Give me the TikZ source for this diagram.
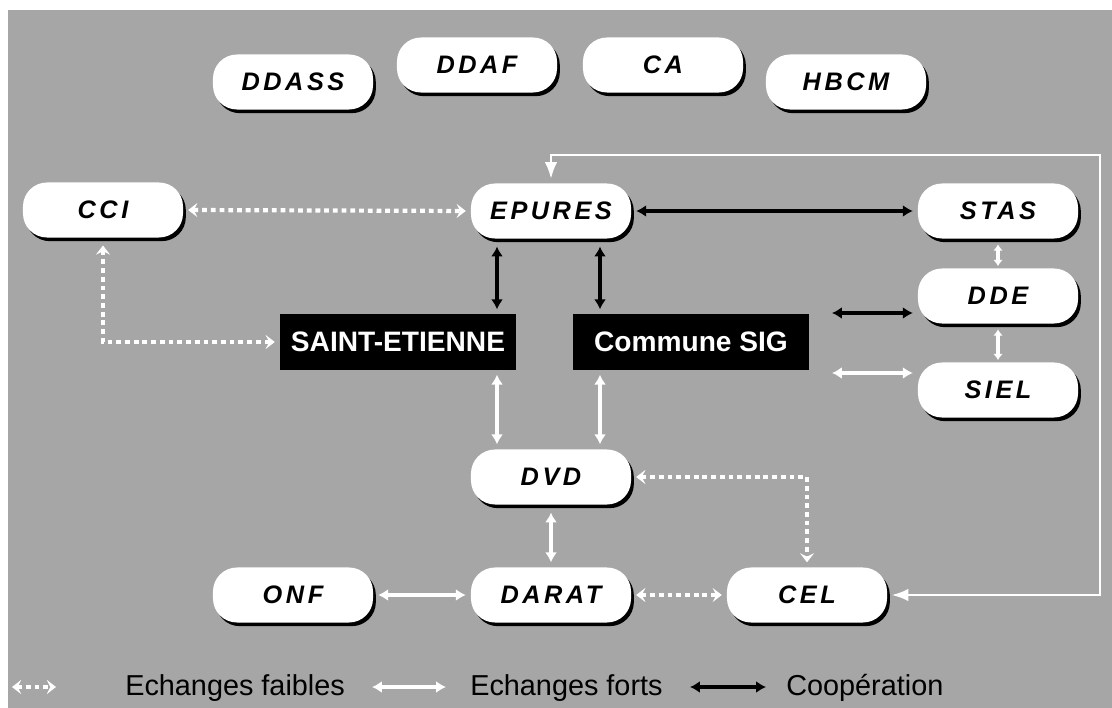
\documentclass[tikz,border=0pt]{standalone}
\usepackage{fontspec}
\setmainfont{Liberation Sans}
\newfontfamily\pillfont[LetterSpace=14]{Liberation Sans}
\usetikzlibrary{arrows.meta,shadows}
\definecolor{bggray}{RGB}{166,166,166}

\tikzset{
  pill/.style={rounded corners=0.6cm, fill=white, inner sep=0pt,
    minimum width=4cm, minimum height=1.375cm,
    drop shadow={fill=black, opacity=1, shadow xshift=2pt, shadow yshift=-2.6pt},
    font=\pillfont\fontsize{18}{21}\selectfont\bfseries\itshape},
  blackbox/.style={fill=black, text=white, inner sep=0pt,
    minimum width=5.9cm, minimum height=1.375cm,
    font=\fontsize{20}{23}\selectfont\bfseries},
  legend/.style={anchor=base west, inner sep=0pt, font=\fontsize{20.5}{24}\selectfont},
  weak/.style={white, line width=3pt, dash pattern=on 3.4pt off 2.8pt,
    {Stealth[length=6.5pt,width=10pt,inset=2.5pt]}-{Stealth[length=6.5pt,width=10pt,inset=2.5pt]},
    shorten <=3.5pt, shorten >=3.5pt},
  strong/.style={white, line width=2.8pt,
    {Latex[length=7pt,width=8.5pt]}-{Latex[length=7pt,width=8.5pt]},
    shorten <=3.5pt, shorten >=3.5pt},
  shortstrong/.style={white, line width=2.4pt,
    {Latex[length=4.5pt,width=7pt]}-{Latex[length=4.5pt,width=7pt]},
    shorten <=1.5pt, shorten >=1.5pt},
  coop/.style={black, line width=2.8pt,
    {Latex[length=7pt,width=8.5pt]}-{Latex[length=7pt,width=8.5pt]},
    shorten <=3.5pt, shorten >=3.5pt}
}

\begin{document}
\begin{tikzpicture}[x=0.025cm, y=-0.025cm, >=Latex]
  \useasboundingbox (0,0) rectangle (1112,708);
  \fill[white] (0,0) rectangle (1112,708);
  \fill[bggray] (8,10) rectangle (1112,708);

  % top row, unconnected
  \node[pill] (ddass) at (293,82) {DDASS};
  \node[pill] (ddaf) at (477,65) {DDAF};
  \node[pill] (ca) at (663,65) {CA};
  \node[pill] (hbcm) at (846,82) {HBCM};

  % main network
  \node[pill] (cci) at (103,210) {CCI};
  \node[pill] (epures) at (551,211) {EPURES};
  \node[pill] (stas) at (998,211) {STAS};
  \node[pill] (dde) at (998,296) {DDE};
  \node[pill] (siel) at (998,390) {SIEL};
  \node[blackbox] (stetienne) at (398,342) {SAINT-ETIENNE};
  \node[blackbox] (sig) at (691,342) {Commune SIG};
  \node[pill] (dvd) at (551,477) {DVD};
  \node[pill] (onf) at (293,595) {ONF};
  \node[pill] (darat) at (551,595) {DARAT};
  \node[pill] (cel) at (807,595) {CEL};

  % helper coordinates
  \coordinate (colA) at (497,0);
  \coordinate (colB) at (600,0);
  \coordinate (sigdde) at (832,313);
  \coordinate (sigsiel) at (832,373);
  \coordinate (loop) at (1100,155);

  \draw[weak] (cci.east) -- (epures.west);
  \draw[weak] ([yshift=-2pt]cci.south) |- (stetienne.west);
  \draw[coop] (epures.east) -- (stas.west);
  \draw[coop] ([yshift=-2pt]epures.south -| colA) -- (stetienne.north -| colA);
  \draw[coop] ([yshift=-2pt]epures.south -| colB) -- (sig.north -| colB);
  \draw[shortstrong] ([yshift=-2.5pt]stas.south) -- (dde.north);
  \draw[shortstrong] ([yshift=-2.5pt]dde.south) -- (siel.north);
  \draw[coop, shorten <=0pt] (sigdde) -- (dde.west |- sigdde);
  \draw[strong, shorten <=0pt] (sigsiel) -- (siel.west |- sigsiel);
  \draw[strong] (stetienne.south -| colA) -- (dvd.north -| colA);
  \draw[strong] (sig.south -| colB) -- (dvd.north -| colB);
  \draw[strong] ([yshift=-2pt]dvd.south) -- (darat.north);
  \draw[weak] (dvd.east) -| (cel.north);
  \draw[strong] (onf.east) -- (darat.west);
  \draw[weak] (darat.east) -- (cel.west);
  \draw[white, line width=2pt, <->, shorten <=3pt, shorten >=3pt]
    (cel.east) -| (loop) -| (epures.north);

  % legend
  \coordinate (lw1) at (12,687);
  \coordinate (lw2) at (56,687);
  \coordinate (ls1) at (372,687);
  \coordinate (ls2) at (446,687);
  \coordinate (lc1) at (690,687);
  \coordinate (lc2) at (766,687);
  \draw[weak, shorten <=0pt, shorten >=0pt] (lw1) -- (lw2);
  \node[legend] (lfaibles) at (125,695) {Echanges faibles};
  \draw[strong, shorten <=0pt, shorten >=0pt] (ls1) -- (ls2);
  \node[legend] (lforts) at (470,695) {Echanges forts};
  \draw[coop, shorten <=0pt, shorten >=0pt] (lc1) -- (lc2);
  \node[legend] (lcoop) at (786,695) {Coopération};
\end{tikzpicture}
\end{document}
